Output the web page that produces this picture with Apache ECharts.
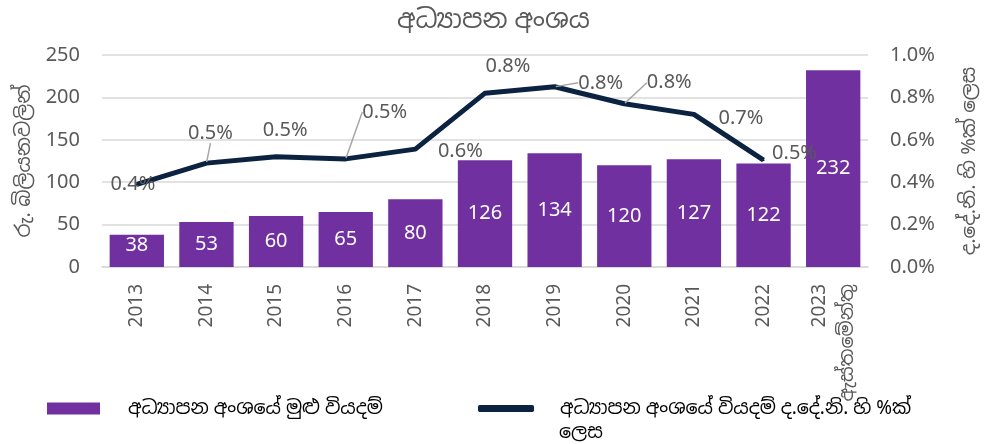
<!DOCTYPE html>
<html>
<head>
<meta charset="utf-8">
<script src="https://cdn.jsdelivr.net/npm/echarts@6/dist/echarts.min.js"></script>
<style>
  html, body { margin: 0; padding: 0; background: #fff; }
  #chart { width: 987px; height: 444px; }
</style>
</head>
<body>
<div id="chart"></div>
<script>
// categories
const years = ['2013', '2014', '2015', '2016', '2017', '2018', '2019', '2020', '2021', '2022', '2023\nඇස්තමේන්තු']
// total spending, Rs. bn
const spending = [38, 53, 60, 65, 80, 126, 134, 120, 127, 122, 232]
// spending as % of GDP (no value for 2023)
const gdpShare = [0.39, 0.49, 0.52, 0.51, 0.556, 0.82, 0.85, 0.77, 0.72, 0.504, '-']
// label nudges for the line labels [dx, dy]
const lineLabelShift = [[-4, 0], [4, -30], [9, -26], [39, -47], [45, 2], [23, -27], [46, -4], [45, -21], [47, 4], [31, -7], [0, 0]]
const withLeader = [1, 3, 6, 7]

const barName = 'අධ්‍යාපන අංශයේ මුළු වියදම්'
const lineName = 'අධ්‍යාපන අංශයේ වියදම් ද.දේ.නි. හි %ක් ලෙස'

const fontFamily = "'Noto Sans', 'Noto Sans Sinhala', 'Open Sans', sans-serif"
const grey = '#595959'

const chart = echarts.init(document.getElementById('chart'))

const option = {
  textStyle: { fontFamily: fontFamily },
  title: {
    text: 'අධ්‍යාපන අංශය',
    left: 'center',
    top: 3,
    textStyle: { fontSize: 26, fontWeight: 'normal', color: grey, fontFamily: fontFamily }
  },
  legend: [
    {
      left: 42,
      top: 394,
      itemWidth: 53,
      itemHeight: 12,
      icon: 'rect',
      data: [barName],
      textStyle: { fontSize: 19, color: '#000', padding: [0, 0, 0, 23] }
    },
    {
      left: 473,
      top: 394,
      itemWidth: 56,
      itemHeight: 7,
      icon: 'roundRect',
      data: [lineName],
      // second line of the name is drawn below as a graphic
      formatter: () => 'අධ්‍යාපන අංශයේ වියදම් ද.දේ.නි. හි %ක්',
      textStyle: { fontSize: 19, color: '#000', padding: [0, 0, 0, 21] }
    }
  ],
  graphic: [
    {
      type: 'text',
      left: 559,
      top: 423,
      style: { text: 'ලෙස', fontSize: 19, fill: '#000', fontFamily: fontFamily }
    }
  ],
  grid: { left: 102, right: 109, top: 55, bottom: 177 },
  xAxis: {
    type: 'category',
    data: years,
    axisLine: { lineStyle: { color: '#D9D9D9', width: 1.5 } },
    axisTick: { show: false },
    axisLabel: { rotate: 90, margin: 17, color: grey, fontSize: 19, lineHeight: 28, interval: 0 }
  },
  yAxis: [
    {
      type: 'value',
      min: 0,
      max: 250,
      interval: 50,
      name: 'රු. බිලියනවලින්',
      nameLocation: 'middle',
      nameRotate: 90,
      nameGap: 66,
      nameTextStyle: { fontSize: 20, color: grey },
      axisLabel: { color: grey, fontSize: 20, margin: 22 },
      splitLine: { lineStyle: { color: '#D9D9D9', width: 1.5 } }
    },
    {
      type: 'value',
      min: 0,
      max: 1,
      interval: 0.2,
      name: 'ද.දේ.නි. හි %ක් ලෙස',
      nameLocation: 'middle',
      nameRotate: 90,
      nameGap: 91,
      nameTextStyle: { fontSize: 20, color: grey },
      axisLabel: { color: grey, fontSize: 20, margin: 22, formatter: v => v.toFixed(1) + '%' },
      splitLine: { show: false }
    }
  ],
  series: [
    {
      name: barName,
      type: 'bar',
      data: spending.map((v, i) => (i === 0 ? { value: v, label: { offset: [0, -6] } } : v)),
      barWidth: '78%',
      itemStyle: { color: '#7030A0' },
      label: { show: true, position: 'inside', color: '#fff', fontSize: 20 }
    },
    {
      name: lineName,
      type: 'line',
      yAxisIndex: 1,
      data: gdpShare.map((v, i) => ({
        value: v,
        labelLine: { show: withLeader.includes(i) }
      })),
      symbol: 'circle',
      symbolSize: 2,
      itemStyle: { color: '#0B2341' },
      lineStyle: { color: '#0B2341', width: 5 },
      label: {
        show: true,
        position: 'inside',
        color: grey,
        fontSize: 20,
        formatter: p => p.value.toFixed(1) + '%'
      },
      labelLine: { show: false, lineStyle: { color: '#A6A6A6', width: 1.5 } },
      labelLayout: p => ({ dx: lineLabelShift[p.dataIndex][0], dy: lineLabelShift[p.dataIndex][1] }),
      z: 3
    }
  ]
}

chart.setOption(option)
</script>
</body>
</html>
